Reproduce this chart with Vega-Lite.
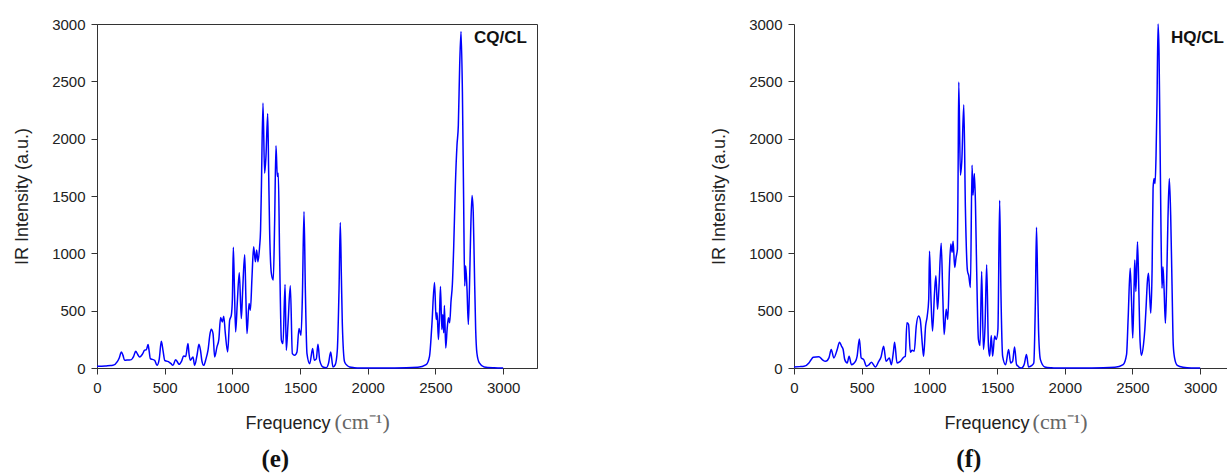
{
  "$schema": "https://vega.github.io/schema/vega-lite/v6.json",
  "padding": {"left": 13, "top": 16, "right": 0, "bottom": 0},
  "background": "white",
  "spacing": 172,
  "config": {
    "view": {"stroke": null},
    "font": "Liberation Sans",
    "axis": {
      "domainColor": "#333333",
      "tickColor": "#333333",
      "labelColor": "#222222",
      "titleColor": "#222222",
      "labelFont": "Liberation Sans",
      "titleFont": "Liberation Sans",
      "labelFontSize": 15,
      "titleFontSize": 18,
      "titleFontWeight": "normal",
      "grid": false,
      "labelFlush": false,
      "labelOverlap": false,
      "labelPadding": 6
    }
  },
  "datasets": {
    "cq": [
      {"frequency": 0, "intensity": 15}, {"frequency": 60, "intensity": 18}, {"frequency": 100, "intensity": 22}, {"frequency": 118, "intensity": 23}, {"frequency": 150, "intensity": 55}, {"frequency": 165, "intensity": 90}, {"frequency": 180, "intensity": 140}, {"frequency": 192, "intensity": 110}, {"frequency": 204, "intensity": 67}, {"frequency": 230, "intensity": 70}, {"frequency": 254, "intensity": 73}, {"frequency": 270, "intensity": 100}, {"frequency": 286, "intensity": 146}, {"frequency": 300, "intensity": 120}, {"frequency": 315, "intensity": 96}, {"frequency": 335, "intensity": 120}, {"frequency": 352, "intensity": 155}, {"frequency": 365, "intensity": 160}, {"frequency": 377, "intensity": 204}, {"frequency": 385, "intensity": 150}, {"frequency": 394, "intensity": 82}, {"frequency": 410, "intensity": 75}, {"frequency": 426, "intensity": 67}, {"frequency": 443, "intensity": 23}, {"frequency": 460, "intensity": 80}, {"frequency": 475, "intensity": 233}, {"frequency": 488, "intensity": 150}, {"frequency": 500, "intensity": 67}, {"frequency": 515, "intensity": 60}, {"frequency": 532, "intensity": 52}, {"frequency": 545, "intensity": 40}, {"frequency": 561, "intensity": 23}, {"frequency": 581, "intensity": 73}, {"frequency": 595, "intensity": 50}, {"frequency": 606, "intensity": 32}, {"frequency": 625, "intensity": 60}, {"frequency": 640, "intensity": 105}, {"frequency": 655, "intensity": 100}, {"frequency": 672, "intensity": 213}, {"frequency": 680, "intensity": 120}, {"frequency": 689, "intensity": 67}, {"frequency": 709, "intensity": 96}, {"frequency": 721, "intensity": 23}, {"frequency": 740, "intensity": 120}, {"frequency": 753, "intensity": 207}, {"frequency": 765, "intensity": 150}, {"frequency": 775, "intensity": 60}, {"frequency": 788, "intensity": 23}, {"frequency": 805, "intensity": 80}, {"frequency": 820, "intensity": 155}, {"frequency": 835, "intensity": 300}, {"frequency": 844, "intensity": 338}, {"frequency": 857, "intensity": 300}, {"frequency": 869, "intensity": 96}, {"frequency": 886, "intensity": 184}, {"frequency": 900, "intensity": 250}, {"frequency": 913, "intensity": 440}, {"frequency": 926, "intensity": 402}, {"frequency": 936, "intensity": 452}, {"frequency": 948, "intensity": 300}, {"frequency": 965, "intensity": 140}, {"frequency": 980, "intensity": 417}, {"frequency": 992, "intensity": 460}, {"frequency": 1000, "intensity": 600}, {"frequency": 1007, "intensity": 1052}, {"frequency": 1015, "intensity": 700}, {"frequency": 1024, "intensity": 315}, {"frequency": 1036, "intensity": 563}, {"frequency": 1051, "intensity": 831}, {"frequency": 1066, "intensity": 431}, {"frequency": 1076, "intensity": 679}, {"frequency": 1091, "intensity": 988}, {"frequency": 1100, "intensity": 600}, {"frequency": 1108, "intensity": 300}, {"frequency": 1123, "intensity": 563}, {"frequency": 1133, "intensity": 504}, {"frequency": 1145, "intensity": 796}, {"frequency": 1157, "intensity": 1058}, {"frequency": 1170, "intensity": 927}, {"frequency": 1179, "intensity": 1029}, {"frequency": 1189, "intensity": 927}, {"frequency": 1201, "intensity": 1058}, {"frequency": 1208, "intensity": 1200}, {"frequency": 1214, "intensity": 1554}, {"frequency": 1226, "intensity": 2311}, {"frequency": 1238, "intensity": 1699}, {"frequency": 1248, "intensity": 1845}, {"frequency": 1261, "intensity": 2218}, {"frequency": 1268, "intensity": 1700}, {"frequency": 1275, "intensity": 1204}, {"frequency": 1288, "intensity": 825}, {"frequency": 1302, "intensity": 767}, {"frequency": 1312, "intensity": 1262}, {"frequency": 1322, "intensity": 1938}, {"frequency": 1332, "intensity": 1670}, {"frequency": 1339, "intensity": 1699}, {"frequency": 1349, "intensity": 971}, {"frequency": 1362, "intensity": 242}, {"frequency": 1374, "intensity": 213}, {"frequency": 1389, "intensity": 729}, {"frequency": 1398, "intensity": 155}, {"frequency": 1411, "intensity": 388}, {"frequency": 1428, "intensity": 717}, {"frequency": 1443, "intensity": 125}, {"frequency": 1460, "intensity": 111}, {"frequency": 1477, "intensity": 140}, {"frequency": 1492, "intensity": 344}, {"frequency": 1507, "intensity": 286}, {"frequency": 1517, "intensity": 621}, {"frequency": 1529, "intensity": 1364}, {"frequency": 1539, "intensity": 679}, {"frequency": 1551, "intensity": 125}, {"frequency": 1571, "intensity": 38}, {"frequency": 1593, "intensity": 169}, {"frequency": 1605, "intensity": 67}, {"frequency": 1620, "intensity": 80}, {"frequency": 1632, "intensity": 207}, {"frequency": 1645, "intensity": 67}, {"frequency": 1669, "intensity": 9}, {"frequency": 1694, "intensity": 3}, {"frequency": 1710, "intensity": 40}, {"frequency": 1726, "intensity": 140}, {"frequency": 1743, "intensity": 9}, {"frequency": 1760, "intensity": 30}, {"frequency": 1775, "intensity": 155}, {"frequency": 1788, "intensity": 700}, {"frequency": 1797, "intensity": 1268}, {"frequency": 1805, "intensity": 800}, {"frequency": 1812, "intensity": 388}, {"frequency": 1829, "intensity": 52}, {"frequency": 1850, "intensity": 20}, {"frequency": 1866, "intensity": 9}, {"frequency": 1900, "intensity": 3}, {"frequency": 1940, "intensity": 0}, {"frequency": 2000, "intensity": 0}, {"frequency": 2200, "intensity": 0}, {"frequency": 2370, "intensity": 6}, {"frequency": 2431, "intensity": 29}, {"frequency": 2456, "intensity": 102}, {"frequency": 2473, "intensity": 365}, {"frequency": 2493, "intensity": 745}, {"frequency": 2505, "intensity": 424}, {"frequency": 2512, "intensity": 482}, {"frequency": 2522, "intensity": 248}, {"frequency": 2529, "intensity": 424}, {"frequency": 2537, "intensity": 710}, {"frequency": 2547, "intensity": 336}, {"frequency": 2554, "intensity": 467}, {"frequency": 2561, "intensity": 307}, {"frequency": 2566, "intensity": 546}, {"frequency": 2576, "intensity": 175}, {"frequency": 2586, "intensity": 336}, {"frequency": 2596, "intensity": 438}, {"frequency": 2605, "intensity": 394}, {"frequency": 2615, "intensity": 584}, {"frequency": 2625, "intensity": 730}, {"frequency": 2635, "intensity": 1066}, {"frequency": 2647, "intensity": 1592}, {"frequency": 2659, "intensity": 1942}, {"frequency": 2669, "intensity": 2118}, {"frequency": 2679, "intensity": 2643}, {"frequency": 2689, "intensity": 2935}, {"frequency": 2699, "intensity": 2410}, {"frequency": 2708, "intensity": 1475}, {"frequency": 2716, "intensity": 716}, {"frequency": 2723, "intensity": 891}, {"frequency": 2733, "intensity": 686}, {"frequency": 2743, "intensity": 380}, {"frequency": 2752, "intensity": 745}, {"frequency": 2760, "intensity": 1183}, {"frequency": 2770, "intensity": 1504}, {"frequency": 2779, "intensity": 1358}, {"frequency": 2787, "intensity": 891}, {"frequency": 2797, "intensity": 336}, {"frequency": 2806, "intensity": 131}, {"frequency": 2824, "intensity": 44}, {"frequency": 2860, "intensity": 9}, {"frequency": 2934, "intensity": 2}, {"frequency": 3000, "intensity": 0}
    ],
    "hq": [
      {"frequency": 0, "intensity": 9}, {"frequency": 40, "intensity": 12}, {"frequency": 74, "intensity": 15}, {"frequency": 110, "intensity": 44}, {"frequency": 125, "intensity": 70}, {"frequency": 142, "intensity": 94}, {"frequency": 184, "intensity": 99}, {"frequency": 209, "intensity": 73}, {"frequency": 233, "intensity": 58}, {"frequency": 258, "intensity": 88}, {"frequency": 275, "intensity": 161}, {"frequency": 294, "intensity": 88}, {"frequency": 319, "intensity": 161}, {"frequency": 336, "intensity": 225}, {"frequency": 351, "intensity": 190}, {"frequency": 363, "intensity": 161}, {"frequency": 375, "intensity": 73}, {"frequency": 393, "intensity": 44}, {"frequency": 407, "intensity": 102}, {"frequency": 424, "intensity": 29}, {"frequency": 454, "intensity": 58}, {"frequency": 466, "intensity": 102}, {"frequency": 483, "intensity": 254}, {"frequency": 496, "intensity": 88}, {"frequency": 515, "intensity": 73}, {"frequency": 535, "intensity": 15}, {"frequency": 555, "intensity": 30}, {"frequency": 572, "intensity": 50}, {"frequency": 601, "intensity": 9}, {"frequency": 626, "intensity": 58}, {"frequency": 643, "intensity": 96}, {"frequency": 662, "intensity": 190}, {"frequency": 680, "intensity": 58}, {"frequency": 704, "intensity": 88}, {"frequency": 719, "intensity": 29}, {"frequency": 735, "intensity": 150}, {"frequency": 743, "intensity": 225}, {"frequency": 761, "intensity": 44}, {"frequency": 785, "intensity": 58}, {"frequency": 810, "intensity": 94}, {"frequency": 822, "intensity": 102}, {"frequency": 834, "intensity": 395}, {"frequency": 846, "intensity": 380}, {"frequency": 859, "intensity": 137}, {"frequency": 873, "intensity": 155}, {"frequency": 888, "intensity": 146}, {"frequency": 903, "intensity": 366}, {"frequency": 920, "intensity": 453}, {"frequency": 932, "intensity": 424}, {"frequency": 949, "intensity": 190}, {"frequency": 957, "intensity": 102}, {"frequency": 972, "intensity": 366}, {"frequency": 984, "intensity": 453}, {"frequency": 995, "intensity": 600}, {"frequency": 1001, "intensity": 1018}, {"frequency": 1011, "intensity": 629}, {"frequency": 1023, "intensity": 322}, {"frequency": 1038, "intensity": 658}, {"frequency": 1048, "intensity": 804}, {"frequency": 1060, "intensity": 512}, {"frequency": 1070, "intensity": 687}, {"frequency": 1087, "intensity": 1088}, {"frequency": 1099, "intensity": 629}, {"frequency": 1109, "intensity": 292}, {"frequency": 1124, "intensity": 512}, {"frequency": 1136, "intensity": 424}, {"frequency": 1148, "intensity": 863}, {"frequency": 1158, "intensity": 1082}, {"frequency": 1168, "intensity": 1009}, {"frequency": 1175, "intensity": 1105}, {"frequency": 1187, "intensity": 877}, {"frequency": 1197, "intensity": 965}, {"frequency": 1207, "intensity": 1038}, {"frequency": 1212, "intensity": 1700}, {"frequency": 1217, "intensity": 2494}, {"frequency": 1229, "intensity": 1681}, {"frequency": 1239, "intensity": 1798}, {"frequency": 1254, "intensity": 2295}, {"frequency": 1266, "intensity": 1389}, {"frequency": 1281, "intensity": 848}, {"frequency": 1291, "intensity": 804}, {"frequency": 1303, "intensity": 702}, {"frequency": 1315, "intensity": 1769}, {"frequency": 1322, "intensity": 1506}, {"frequency": 1332, "intensity": 1696}, {"frequency": 1340, "intensity": 1447}, {"frequency": 1349, "intensity": 863}, {"frequency": 1362, "intensity": 249}, {"frequency": 1374, "intensity": 196}, {"frequency": 1386, "intensity": 842}, {"frequency": 1399, "intensity": 161}, {"frequency": 1411, "intensity": 366}, {"frequency": 1423, "intensity": 901}, {"frequency": 1436, "intensity": 190}, {"frequency": 1445, "intensity": 102}, {"frequency": 1457, "intensity": 284}, {"frequency": 1467, "intensity": 102}, {"frequency": 1482, "intensity": 278}, {"frequency": 1494, "intensity": 249}, {"frequency": 1506, "intensity": 336}, {"frequency": 1519, "intensity": 1462}, {"frequency": 1528, "intensity": 687}, {"frequency": 1541, "intensity": 102}, {"frequency": 1563, "intensity": 29}, {"frequency": 1585, "intensity": 161}, {"frequency": 1600, "intensity": 44}, {"frequency": 1615, "intensity": 60}, {"frequency": 1629, "intensity": 184}, {"frequency": 1644, "intensity": 29}, {"frequency": 1681, "intensity": 0}, {"frequency": 1700, "intensity": 30}, {"frequency": 1717, "intensity": 117}, {"frequency": 1732, "intensity": 9}, {"frequency": 1755, "intensity": 20}, {"frequency": 1771, "intensity": 44}, {"frequency": 1783, "intensity": 600}, {"frequency": 1791, "intensity": 1228}, {"frequency": 1800, "intensity": 700}, {"frequency": 1806, "intensity": 336}, {"frequency": 1820, "intensity": 73}, {"frequency": 1852, "intensity": 9}, {"frequency": 1900, "intensity": 2}, {"frequency": 1938, "intensity": 0}, {"frequency": 2000, "intensity": 0}, {"frequency": 2200, "intensity": 0}, {"frequency": 2370, "intensity": 6}, {"frequency": 2431, "intensity": 29}, {"frequency": 2456, "intensity": 116}, {"frequency": 2468, "intensity": 435}, {"frequency": 2483, "intensity": 870}, {"frequency": 2493, "intensity": 580}, {"frequency": 2502, "intensity": 261}, {"frequency": 2512, "intensity": 725}, {"frequency": 2517, "intensity": 942}, {"frequency": 2525, "intensity": 667}, {"frequency": 2537, "intensity": 1102}, {"frequency": 2547, "intensity": 667}, {"frequency": 2556, "intensity": 232}, {"frequency": 2566, "intensity": 110}, {"frequency": 2581, "intensity": 203}, {"frequency": 2591, "intensity": 333}, {"frequency": 2600, "intensity": 522}, {"frequency": 2610, "intensity": 754}, {"frequency": 2618, "intensity": 826}, {"frequency": 2627, "intensity": 638}, {"frequency": 2635, "intensity": 478}, {"frequency": 2645, "intensity": 870}, {"frequency": 2652, "intensity": 1565}, {"frequency": 2659, "intensity": 1652}, {"frequency": 2667, "intensity": 1609}, {"frequency": 2674, "intensity": 1855}, {"frequency": 2681, "intensity": 2319}, {"frequency": 2689, "intensity": 3000}, {"frequency": 2696, "intensity": 2754}, {"frequency": 2703, "intensity": 2029}, {"frequency": 2711, "intensity": 1160}, {"frequency": 2718, "intensity": 696}, {"frequency": 2725, "intensity": 884}, {"frequency": 2733, "intensity": 696}, {"frequency": 2743, "intensity": 391}, {"frequency": 2752, "intensity": 725}, {"frequency": 2762, "intensity": 1305}, {"frequency": 2772, "intensity": 1652}, {"frequency": 2782, "intensity": 1334}, {"frequency": 2792, "intensity": 725}, {"frequency": 2801, "intensity": 203}, {"frequency": 2811, "intensity": 87}, {"frequency": 2831, "intensity": 23}, {"frequency": 2873, "intensity": 6}, {"frequency": 2934, "intensity": 0}, {"frequency": 3000, "intensity": 0}
    ]
  },
  "hconcat": [
    {
      "width": 440,
      "height": 344,
      "view": {"stroke": "#333333", "strokeWidth": 1},
      "title": {"text": "(e)", "orient": "bottom", "frame": "bounds", "anchor": "middle", "font": "Liberation Serif", "fontSize": 25, "fontWeight": "bold", "color": "#111111", "offset": 14},
      "layer": [
        {
          "data": {"name": "cq"},
          "mark": {"type": "line", "color": "#0000ff", "strokeWidth": 1.5, "interpolate": "monotone"},
          "encoding": {
            "x": {"field": "frequency", "type": "quantitative",
              "scale": {"domain": [0, 3250], "nice": false, "zero": false},
              "axis": {"title": "Frequency", "titleAnchor": "start", "titleAlign": "left", "titleX": 148, "titlePadding": 19, "format": "d",
                "values": [0, 250, 500, 750, 1000, 1250, 1500, 1750, 2000, 2250, 2500, 2750, 3000, 3250],
                "labelExpr": "datum.value % 500 === 0 ? datum.label : ''",
                "tickSize": {"condition": {"test": "datum.value % 500 === 0", "value": 6}, "value": 3}}},
            "y": {"field": "intensity", "type": "quantitative",
              "scale": {"domain": [0, 3000], "nice": false},
              "axis": {"title": "IR Intensity (a.u.)", "titlePadding": 20, "format": "d",
                "values": [0, 250, 500, 750, 1000, 1250, 1500, 1750, 2000, 2250, 2500, 2750, 3000],
                "labelExpr": "datum.value % 500 === 0 ? datum.label : ''",
                "tickSize": {"condition": {"test": "datum.value % 500 === 0", "value": 6}, "value": 3}}}
          }
        },
        {
          "data": {"values": [{"label": "CQ/CL"}]},
          "mark": {"type": "text", "font": "Liberation Sans", "fontWeight": "bold", "fontSize": 17, "align": "left", "baseline": "middle", "color": "#111111"},
          "encoding": {"x": {"datum": 2785}, "y": {"datum": 2880}, "text": {"field": "label"}}
        },
        {
          "data": {"values": [{"unit": "(cm⁻¹)"}]},
          "mark": {"type": "text", "font": "Liberation Serif", "fontSize": 22, "align": "left", "baseline": "middle", "color": "#666666"},
          "encoding": {"x": {"datum": 1755}, "y": {"datum": -471}, "text": {"field": "unit"}}
        }
      ]
    },
    {
      "width": 433,
      "height": 344,
      "view": {"stroke": null},
      "title": {"text": "(f)", "orient": "bottom", "frame": "bounds", "anchor": "middle", "font": "Liberation Serif", "fontSize": 25, "fontWeight": "bold", "color": "#111111", "offset": 14},
      "layer": [
        {
          "data": {"name": "hq"},
          "mark": {"type": "line", "color": "#0000ff", "strokeWidth": 1.5, "interpolate": "monotone"},
          "encoding": {
            "x": {"field": "frequency", "type": "quantitative",
              "scale": {"domain": [0, 3198], "nice": false, "zero": false},
              "axis": {"title": "Frequency", "titleAnchor": "start", "titleAlign": "left", "titleX": 150, "titlePadding": 19, "format": "d",
                "values": [0, 250, 500, 750, 1000, 1250, 1500, 1750, 2000, 2250, 2500, 2750, 3000],
                "labelExpr": "datum.value % 500 === 0 ? datum.label : ''",
                "tickSize": {"condition": {"test": "datum.value % 500 === 0", "value": 6}, "value": 3}}},
            "y": {"field": "intensity", "type": "quantitative",
              "scale": {"domain": [0, 3000], "nice": false},
              "axis": {"title": "IR Intensity (a.u.)", "titlePadding": 20, "format": "d",
                "values": [0, 250, 500, 750, 1000, 1250, 1500, 1750, 2000, 2250, 2500, 2750, 3000],
                "labelExpr": "datum.value % 500 === 0 ? datum.label : ''",
                "tickSize": {"condition": {"test": "datum.value % 500 === 0", "value": 6}, "value": 3}}}
          }
        },
        {
          "mark": {"type": "rule", "color": "#333333", "strokeWidth": 1},
          "encoding": {"y": {"datum": 3000}}
        },
        {
          "data": {"values": [{"label": "HQ/CL"}]},
          "mark": {"type": "text", "font": "Liberation Sans", "fontWeight": "bold", "fontSize": 17, "align": "left", "baseline": "middle", "color": "#111111"},
          "encoding": {"x": {"datum": 2785}, "y": {"datum": 2880}, "text": {"field": "label"}}
        },
        {
          "data": {"values": [{"unit": "(cm⁻¹)"}]},
          "mark": {"type": "text", "font": "Liberation Serif", "fontSize": 22, "align": "left", "baseline": "middle", "color": "#666666"},
          "encoding": {"x": {"datum": 1762}, "y": {"datum": -471}, "text": {"field": "unit"}}
        }
      ]
    }
  ]
}
